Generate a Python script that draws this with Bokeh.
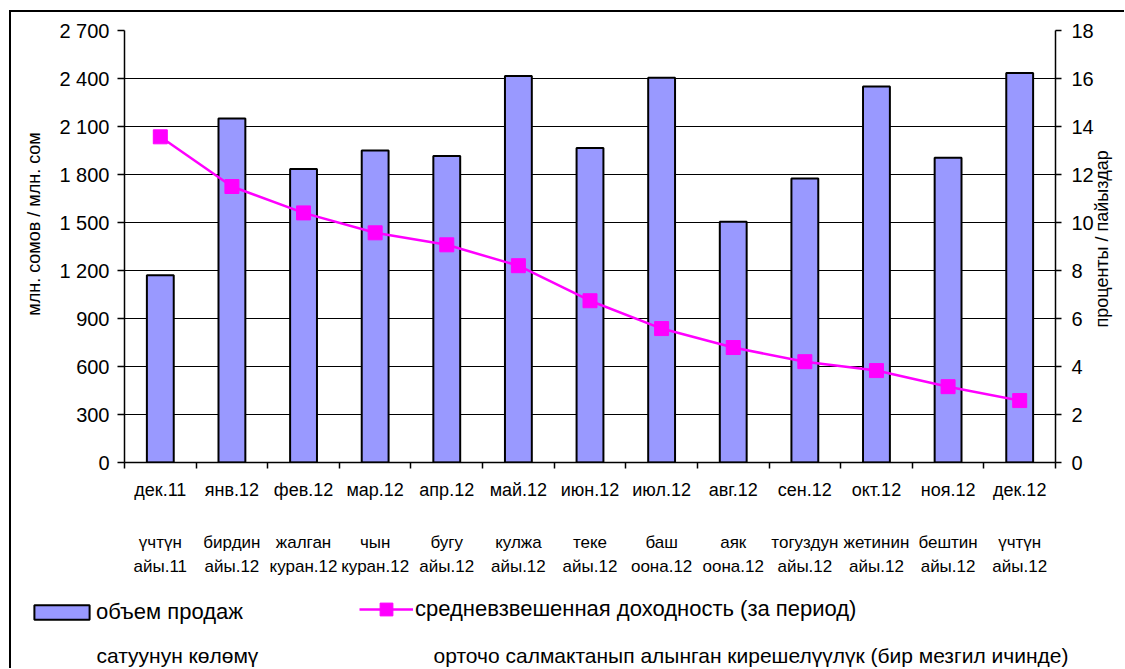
import math
from bokeh.plotting import figure
from bokeh.layouts import column
from bokeh.models import (Range1d, LinearAxis, FixedTicker, Label,
                          ColumnDataSource, Legend, LegendItem, Grid)
from bokeh.embed import file_html
from bokeh.resources import INLINE

# ---------------- data ----------------
months = ["дек.11", "янв.12", "фев.12", "мар.12", "апр.12", "май.12", "июн.12",
          "июл.12", "авг.12", "сен.12", "окт.12", "ноя.12", "дек.12"]
months_kg_1 = ["үчтүн", "бирдин", "жалган", "чын", "бугу", "кулжа", "теке", "баш",
               "аяк", "тогуздун", "жетинин", "бештин", "үчтүн"]
months_kg_2 = ["айы.11", "айы.12", "куран.12", "куран.12", "айы.12", "айы.12", "айы.12",
               "оона.12", "оона.12", "айы.12", "айы.12", "айы.12", "айы.12"]
sales_volume = [1170, 2150, 1835, 1950, 1915, 2415, 1965, 2405, 1505, 1775, 2350, 1905, 2435]
avg_yield = [13.57, 11.5, 10.4, 9.57, 9.07, 8.2, 6.74, 5.58, 4.79, 4.2, 3.83, 3.16, 2.58]
left_ticks = [0, 300, 600, 900, 1200, 1500, 1800, 2100, 2400, 2700]
right_ticks = [0, 2, 4, 6, 8, 10, 12, 14, 16, 18]

series_names = ["объем продаж", "средневзвешенная доходность (за период)"]
series_names_kg = ["сатуунун көлөмү",
                   "орточо салмактанып алынган кирешелүүлүк (бир мезгил ичинде)"]
left_title = "млн. сомов / млн. сом"
right_title = "проценты / пайыздар"

# --------------- styling ---------------
FONT = "Liberation Sans"
BAR_FILL = "#9999FF"
LINE_COL = "#FF00FF"
W = 1113
H1, H2 = 573, 83
NB = "\u00a0"

xs = [i + 0.5 for i in range(len(months))]
src = ColumnDataSource(dict(x=xs, vol=sales_volume, yld=avg_yield))

# --------------- chart figure ---------------
p = figure(width=W, height=H1, output_backend="svg", toolbar_location=None,
           x_range=Range1d(0, len(months)), y_range=Range1d(0, left_ticks[-1]),
           x_axis_type=None, y_axis_type=None,
           min_border_left=113, min_border_right=61, min_border_top=18,
           min_border_bottom=123)
p.frame_align = False
p.extra_y_ranges = {"pct": Range1d(0, right_ticks[-1])}
p.outline_line_color = None
p.background_fill_color = "white"
p.border_fill_color = "white"

def style_axis(ax, size):
    ax.axis_line_color = "black"
    ax.axis_line_width = 1.5
    ax.major_tick_line_color = "black"
    ax.major_tick_line_width = 1.5
    ax.major_label_text_font = FONT
    ax.major_label_text_font_size = size
    ax.major_label_text_color = "black"
    ax.axis_label_text_font = FONT
    ax.axis_label_text_font_style = "normal"
    ax.axis_label_text_font_size = "18px"
    ax.axis_label_text_color = "black"

yax = LinearAxis(ticker=FixedTicker(ticks=left_ticks),
                 major_label_overrides={t: f"{t:,}".replace(",", " ") for t in left_ticks},
                 axis_label=NB * 9 + left_title)
style_axis(yax, "20px")
yax.major_tick_out = 7
yax.major_tick_in = 0
yax.major_label_standoff = 8
yax.axis_label_standoff = 12
p.add_layout(yax, "left")

rax = LinearAxis(y_range_name="pct", ticker=FixedTicker(ticks=right_ticks),
                 axis_label=NB * 27 + right_title)
style_axis(rax, "20px")
rax.major_tick_out = 6
rax.major_tick_in = 0
rax.major_label_standoff = 10
rax.axis_label_standoff = 5
rax.axis_label_orientation = math.pi / 2
rax.axis_label_align = "start"
p.add_layout(rax, "right")

xax = LinearAxis(ticker=FixedTicker(ticks=xs, minor_ticks=list(range(len(months) + 1))),
                 major_label_overrides={x: m for x, m in zip(xs, months)})
style_axis(xax, "18px")
xax.major_tick_out = 0
xax.major_tick_in = 0
xax.minor_tick_out = 6
xax.minor_tick_in = 0
xax.minor_tick_line_color = "black"
xax.minor_tick_line_width = 1.5
xax.major_label_standoff = 11
p.add_layout(xax, "below")

def label_axis(labels, standoff):
    ax = LinearAxis(ticker=FixedTicker(ticks=xs),
                    major_label_overrides={x: t for x, t in zip(xs, labels)})
    style_axis(ax, "17px")
    ax.axis_line_color = None
    ax.major_tick_line_color = None
    ax.major_tick_out = 0
    ax.major_tick_in = 0
    ax.minor_tick_line_color = None
    ax.major_label_standoff = standoff
    p.add_layout(ax, "below")

label_axis(months_kg_1, 30)
label_axis(months_kg_2, 2)

p.add_layout(Grid(dimension=1, ticker=yax.ticker, grid_line_color="black",
                  grid_line_width=1))

p.vbar(x="x", top="vol", width=0.375, source=src, fill_color=BAR_FILL,
       line_color="black", line_width=2)
p.line("x", "yld", source=src, y_range_name="pct", line_color=LINE_COL, line_width=2.5)
p.scatter("x", "yld", source=src, y_range_name="pct", marker="square", size=14,
          fill_color=LINE_COL, line_color=LINE_COL)

# --------------- legend / caption figure ---------------
# The legend renderers share the chart's data but lie outside this strip's view
# ranges, so only their legend glyphs are visible.
n = len(months)
ymax = left_ticks[-1]
q = figure(width=W, height=H2, output_backend="svg", toolbar_location=None,
           x_range=Range1d(-n, 0), y_range=Range1d(ymax, 2 * ymax),
           x_axis_type=None, y_axis_type=None, min_border=0)
q.frame_align = False
q.outline_line_color = None
q.grid.visible = False
q.background_fill_color = "white"
q.border_fill_color = "white"

lb = q.vbar(x="x", top="vol", width=0.375, source=src, fill_color=BAR_FILL,
            line_color="black", line_width=2)
ll = q.line("x", "yld", source=src, line_color=LINE_COL, line_width=2.5)
lm = q.scatter("x", "yld", source=src, marker="square", size=14,
               fill_color=LINE_COL, line_color=LINE_COL)

def make_legend(label, renderers, loc, gw, gh, standoff):
    return Legend(items=[LegendItem(label=label, renderers=renderers)], location=loc,
                  orientation="horizontal", glyph_width=gw, glyph_height=gh,
                  label_standoff=standoff, padding=0, margin=0, spacing=0,
                  border_line_color=None, background_fill_alpha=0,
                  label_text_font=FONT, label_text_font_size="22px",
                  label_text_color="black")

q.add_layout(make_legend(series_names[0], [lb], (16, 43), 69, 18, 0))
q.add_layout(make_legend(series_names[1], [ll, lm], (348, 43), 54, 32, 2))

for txt, xpos in zip(series_names_kg, [85, 422]):
    q.add_layout(Label(x=xpos, y=13, x_units="screen", y_units="screen", text=txt,
                       text_baseline="alphabetic", text_font=FONT,
                       text_font_size="21px", text_color="black"))

layout = column(p, q, spacing=0)
layout.styles = {"margin-left": "9px", "margin-top": "10px",
                 "border-left": "2px solid black", "border-top": "2px solid black"}

open("out.html", "w").write(file_html(layout, INLINE))
